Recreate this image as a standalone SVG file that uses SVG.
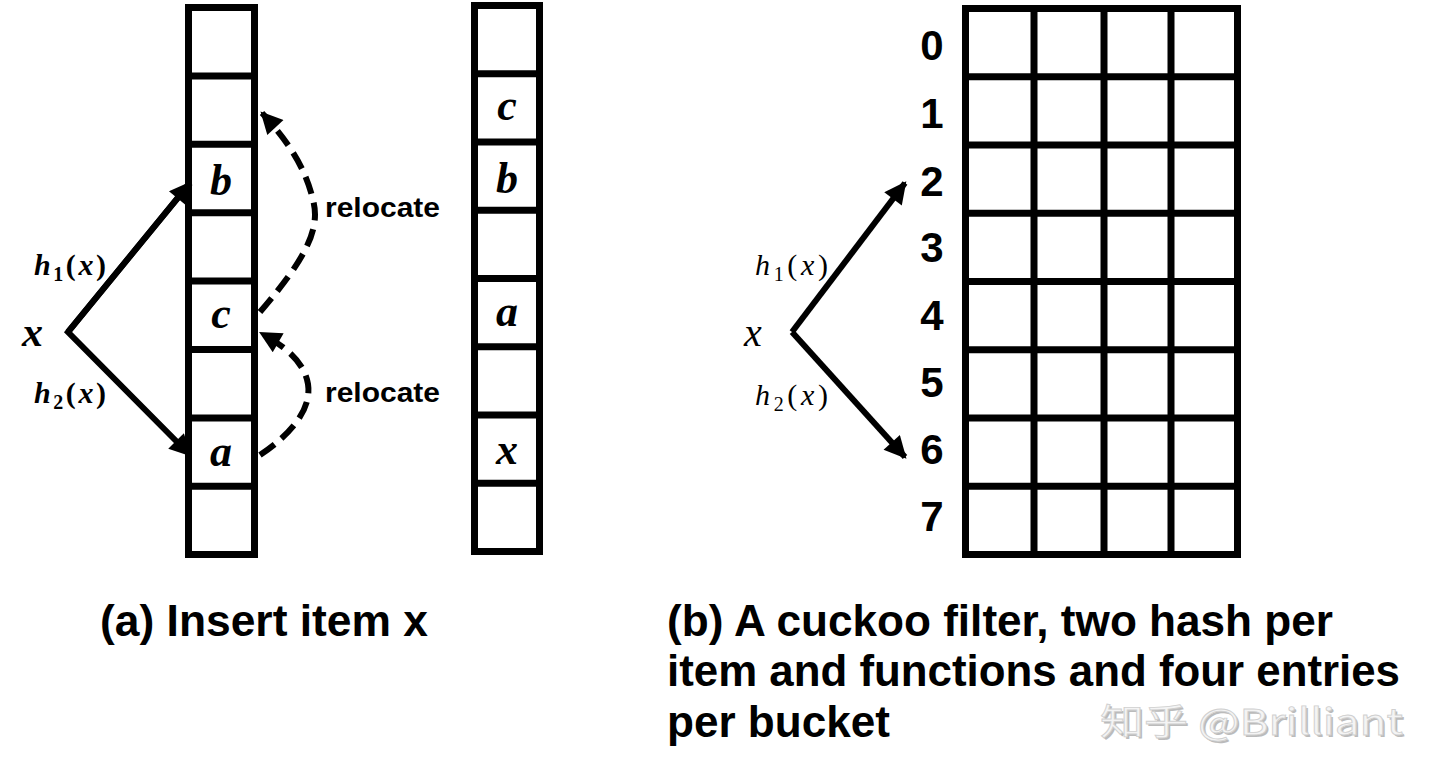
<svg xmlns="http://www.w3.org/2000/svg" width="1440" height="777" viewBox="0 0 1440 777">
<style>
.box{fill:none;stroke:#000;stroke-width:7}
.div{stroke:#000;stroke-width:7}
.cell{font-family:"Liberation Serif",serif;font-style:italic;font-weight:bold;font-size:44px;text-anchor:middle;fill:#000}
.math{font-family:"Liberation Serif",serif;font-size:30px;fill:#000}
.mi{font-style:italic}
.reloc{font-family:"Liberation Sans",Arial,sans-serif;font-weight:bold;font-size:28px;fill:#000}
.dig{font-family:"Liberation Sans",Arial,sans-serif;font-weight:bold;font-size:42px;text-anchor:middle;fill:#000}
.cap{font-family:"Liberation Sans",Arial,sans-serif;font-weight:bold;font-size:44px;fill:#000}
.solid{fill:none;stroke:#000;stroke-width:6}
.dash{fill:none;stroke:#000;stroke-width:6;stroke-dasharray:18 9}
</style>
<defs>
<marker id="ah" viewBox="0 0 10 10" refX="9" refY="5" markerWidth="25" markerHeight="22" markerUnits="userSpaceOnUse" orient="auto">
<path d="M0,0 L10,5 L0,10 z" fill="#000"/>
</marker>
</defs>
<rect width="1440" height="777" fill="#fff"/>

<g id="column-a">
<rect class="box" x="188.5" y="7.5" width="66" height="547"/>
<line class="div" x1="188.5" y1="75.9" x2="254.5" y2="75.9"/>
<line class="div" x1="188.5" y1="144.3" x2="254.5" y2="144.3"/>
<line class="div" x1="188.5" y1="212.7" x2="254.5" y2="212.7"/>
<line class="div" x1="188.5" y1="281.1" x2="254.5" y2="281.1"/>
<line class="div" x1="188.5" y1="349.5" x2="254.5" y2="349.5"/>
<line class="div" x1="188.5" y1="417.9" x2="254.5" y2="417.9"/>
<line class="div" x1="188.5" y1="486.3" x2="254.5" y2="486.3"/>
<text class="cell" x="221" y="195">b</text>
<text class="cell" x="221" y="328">c</text>
<text class="cell" x="221" y="466">a</text>
</g>

<g id="column-a-result">
<rect class="box" x="474.5" y="5.5" width="65" height="546"/>
<line class="div" x1="474.5" y1="73.75" x2="539.5" y2="73.75"/>
<line class="div" x1="474.5" y1="142" x2="539.5" y2="142"/>
<line class="div" x1="474.5" y1="210.25" x2="539.5" y2="210.25"/>
<line class="div" x1="474.5" y1="278.5" x2="539.5" y2="278.5"/>
<line class="div" x1="474.5" y1="346.75" x2="539.5" y2="346.75"/>
<line class="div" x1="474.5" y1="415" x2="539.5" y2="415"/>
<line class="div" x1="474.5" y1="483.25" x2="539.5" y2="483.25"/>
<text class="cell" x="507" y="120">c</text>
<text class="cell" x="507" y="193">b</text>
<text class="cell" x="507" y="326">a</text>
<text class="cell" x="507" y="464">x</text>
</g>

<g id="labels-a">
<text class="math" x="22" y="346" style="font-size:42px;font-weight:bold;font-style:italic">x</text>
<text class="math" x="34" y="275" style="font-weight:bold" textLength="72" lengthAdjust="spacing"><tspan class="mi">h</tspan><tspan font-size="20" dy="6">1</tspan><tspan dy="-6">(</tspan><tspan class="mi">x</tspan>)</text>
<text class="math" x="34" y="403" style="font-weight:bold" textLength="72" lengthAdjust="spacing"><tspan class="mi">h</tspan><tspan font-size="20" dy="6">2</tspan><tspan dy="-6">(</tspan><tspan class="mi">x</tspan>)</text>
<text class="reloc" x="325" y="217" textLength="115" lengthAdjust="spacingAndGlyphs">relocate</text>
<text class="reloc" x="325" y="402" textLength="115" lengthAdjust="spacingAndGlyphs">relocate</text>
</g>

<g id="grid-b">
<rect class="box" x="965.5" y="8.5" width="272" height="546"/>
<line class="div" x1="1034" y1="8.5" x2="1034" y2="554.5"/>
<line class="div" x1="1104" y1="8.5" x2="1104" y2="554.5"/>
<line class="div" x1="1171" y1="8.5" x2="1171" y2="554.5"/>
<line class="div" x1="965.5" y1="76.75" x2="1237.5" y2="76.75"/>
<line class="div" x1="965.5" y1="145" x2="1237.5" y2="145"/>
<line class="div" x1="965.5" y1="213.25" x2="1237.5" y2="213.25"/>
<line class="div" x1="965.5" y1="281.5" x2="1237.5" y2="281.5"/>
<line class="div" x1="965.5" y1="349.75" x2="1237.5" y2="349.75"/>
<line class="div" x1="965.5" y1="418" x2="1237.5" y2="418"/>
<line class="div" x1="965.5" y1="486.25" x2="1237.5" y2="486.25"/>
<text class="dig" x="932" y="60">0</text>
<text class="dig" x="932" y="128">1</text>
<text class="dig" x="932" y="196">2</text>
<text class="dig" x="932" y="262">3</text>
<text class="dig" x="932" y="330">4</text>
<text class="dig" x="932" y="397">5</text>
<text class="dig" x="932" y="464">6</text>
<text class="dig" x="932" y="531">7</text>
</g>

<g id="labels-b">
<text class="math" x="744" y="346" style="font-size:40px;font-style:italic">x</text>
<text class="math" x="755" y="275" textLength="73" lengthAdjust="spacing"><tspan class="mi">h</tspan><tspan font-size="20" dy="6">1</tspan><tspan dy="-6">(</tspan><tspan class="mi">x</tspan>)</text>
<text class="math" x="755" y="405" textLength="73" lengthAdjust="spacing"><tspan class="mi">h</tspan><tspan font-size="20" dy="6">2</tspan><tspan dy="-6">(</tspan><tspan class="mi">x</tspan>)</text>
</g>

<g id="connectors">
<polyline class="solid" points="190,183 68,332 190,455" style="stroke-linejoin:miter" marker-end="url(#ah)"/>
<line class="solid" x1="68" y1="332" x2="190" y2="183" marker-end="url(#ah)"/>
<path class="dash" d="M260,312 C300,265 322,232 313,200 C305,165 285,138 262,113" marker-end="url(#ah)"/>
<path class="dash" d="M260,455 C290,435 312,410 308,384 C304,360 282,345 261,333" marker-end="url(#ah)"/>
<line class="solid" x1="792" y1="332" x2="905" y2="183" marker-end="url(#ah)"/>
<line class="solid" x1="792" y1="332" x2="905" y2="457" marker-end="url(#ah)"/>
</g>

<g id="captions">
<text class="cap" x="100" y="636" textLength="328" lengthAdjust="spacingAndGlyphs">(a) Insert item x</text>
<text class="cap" x="667" y="636" textLength="666" lengthAdjust="spacingAndGlyphs">(b) A cuckoo filter, two hash per</text>
<text class="cap" x="667" y="686" textLength="733" lengthAdjust="spacingAndGlyphs">item and functions and four entries</text>
<text class="cap" x="667" y="737" textLength="223" lengthAdjust="spacingAndGlyphs">per bucket</text>
</g>

<g id="watermark">
<text x="1102" y="737" font-family="'Noto Sans CJK SC',sans-serif" font-size="36" fill="#bbb" textLength="303" lengthAdjust="spacingAndGlyphs">知乎 @Brilliant</text>
<text x="1100" y="735" font-family="'Noto Sans CJK SC',sans-serif" font-size="36" fill="#f4f4f4" stroke="#d0d0d0" stroke-width="0.8" textLength="303" lengthAdjust="spacingAndGlyphs">知乎 @Brilliant</text>
</g>
</svg>
